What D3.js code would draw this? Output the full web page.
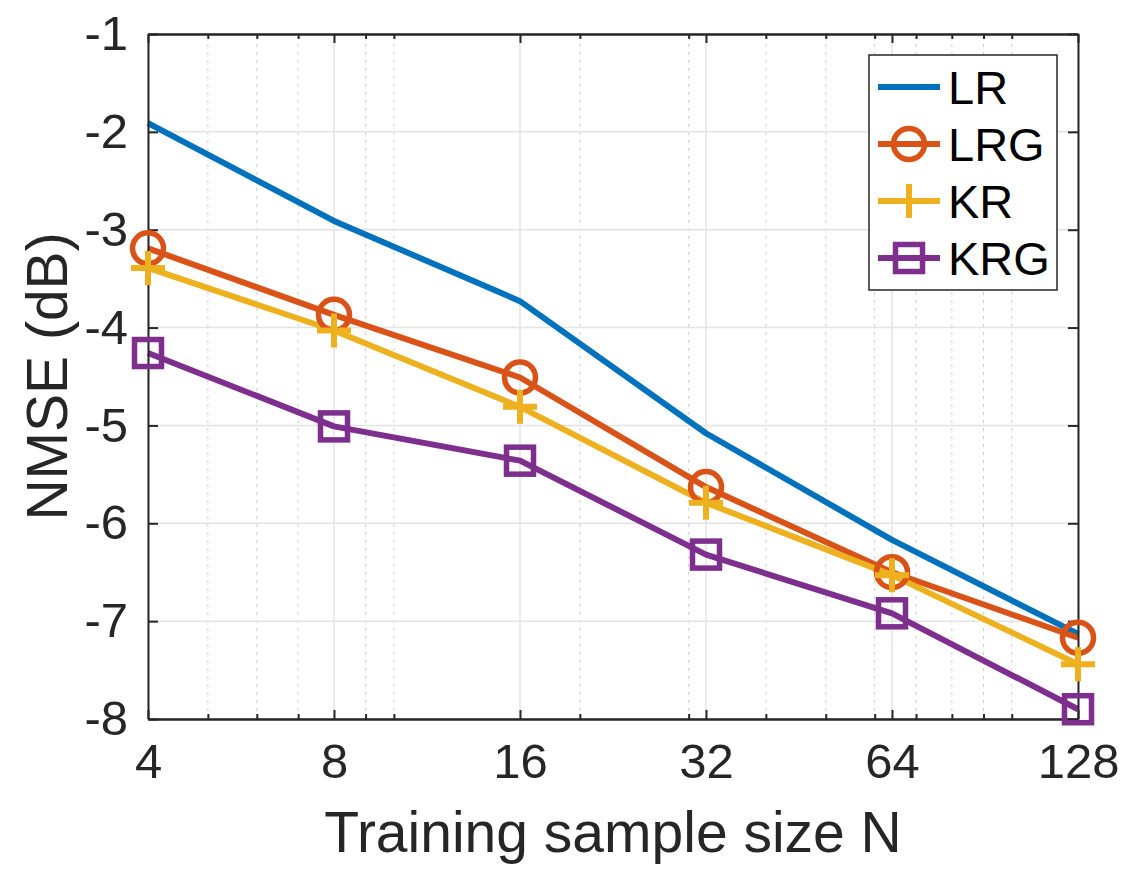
<!DOCTYPE html>
<html>
<head>
<meta charset="utf-8">
<script src="https://cdn.jsdelivr.net/npm/d3@7"></script>
<style>
  body { margin: 0; background: #fff; }
  svg { display: block; font-family: "Liberation Sans", Arial, Helvetica, sans-serif; }
</style>
</head>
<body>
<svg id="chart"></svg>
<script>
const W = 1129, H = 886;

// data
const sampleSizes = [4, 8, 16, 32, 64, 128];
const lrValues  = [-1.91, -2.91, -3.73, -5.08, -6.17, -7.13];
const lrgValues = [-3.19, -3.87, -4.51, -5.63, -6.50, -7.17];
const krValues  = [-3.39, -4.03, -4.81, -5.79, -6.53, -7.44];
const krgValues = [-4.26, -5.01, -5.36, -6.32, -6.92, -7.90];
const yTicks = [-8, -7, -6, -5, -4, -3, -2, -1];
const xMinorTicks = [5, 6, 7, 9, 10, 20, 30, 40, 50, 60, 70, 80, 90, 100];

const series = [
	{ name: 'LR',  values: lrValues,  color: '#0072BD', marker: 'none' },
	{ name: 'LRG', values: lrgValues, color: '#D95319', marker: 'circle' },
	{ name: 'KR',  values: krValues,  color: '#EDB120', marker: 'plus' },
	{ name: 'KRG', values: krgValues, color: '#7E2F8E', marker: 'square' }
];

const margin = { left: 148, right: W - 1078, top: 34, bottom: H - 719 };
const AXIS = '#262626', GRID = '#e3e3e3';

const svg = d3.select('svg#chart').attr('width', W).attr('height', H);

const x = d3.scaleLog().base(2).domain([4, 128]).range([margin.left, W - margin.right]);
const y = d3.scaleLinear().domain([-8, -1]).range([H - margin.bottom, margin.top]);

const gridG = svg.append('g'),
	linesG = svg.append('g'),
	axesG = svg.append('g'),
	marksG = svg.append('g'),
	legendG = svg.append('g');

// grid
gridG.selectAll('line.minor').data(xMinorTicks).enter().append('line')
	.attr('x1', d => x(d)).attr('x2', d => x(d))
	.attr('y1', y(-8)).attr('y2', y(-1))
	.attr('stroke', '#cfcfcf').attr('stroke-width', 1)
	.attr('stroke-dasharray', '3,5');
gridG.selectAll('line.vmaj').data(sampleSizes).enter().append('line')
	.attr('x1', d => x(d)).attr('x2', d => x(d))
	.attr('y1', y(-8)).attr('y2', y(-1))
	.attr('stroke', GRID).attr('stroke-width', 1.5);
gridG.selectAll('line.hmaj').data(yTicks).enter().append('line')
	.attr('x1', x(4)).attr('x2', x(128))
	.attr('y1', d => y(d)).attr('y2', d => y(d))
	.attr('stroke', GRID).attr('stroke-width', 1.5);

// series lines
const line = d3.line().x(d => x(d[0])).y(d => y(d[1]));
series.forEach(s => {
	const pts = sampleSizes.map((n, i) => [n, s.values[i]]);
	linesG.append('path')
		.datum(pts)
		.attr('d', line)
		.attr('fill', 'none')
		.attr('stroke', s.color)
		.attr('stroke-width', 6)
		.attr('stroke-linejoin', 'round');
});

// axes
const fmt = d => String(d);
const xAxisB = d3.axisBottom(x).tickValues(sampleSizes).tickFormat(fmt).tickSizeInner(-9).tickSizeOuter(0).tickPadding(24);
const xAxisT = d3.axisTop(x).tickValues(sampleSizes).tickFormat('').tickSizeInner(-9).tickSizeOuter(0);
const yAxisL = d3.axisLeft(y).tickValues(yTicks).tickFormat(fmt).tickSizeInner(-10).tickSizeOuter(0).tickPadding(20);
const yAxisR = d3.axisRight(y).tickValues(yTicks).tickFormat('').tickSizeInner(-10).tickSizeOuter(0);
const minorB = d3.axisBottom(x).tickValues(xMinorTicks).tickFormat('').tickSizeInner(-5).tickSizeOuter(0);
const minorT = d3.axisTop(x).tickValues(xMinorTicks).tickFormat('').tickSizeInner(-5).tickSizeOuter(0);

function style(g) {
	g.selectAll('path.domain').attr('stroke', AXIS).attr('stroke-width', 2);
	g.selectAll('.tick line').attr('stroke', AXIS).attr('stroke-width', 2);
	g.selectAll('.tick text').attr('fill', AXIS).attr('font-size', 49);
	g.attr('font-family', null);
}

axesG.append('g').attr('transform', `translate(0,${y(-8)})`).call(xAxisB).call(style);
axesG.append('g').attr('transform', `translate(0,${y(-1)})`).call(xAxisT).call(style);
axesG.append('g').attr('transform', `translate(0,${y(-8)})`).call(minorB).call(style);
axesG.append('g').attr('transform', `translate(0,${y(-1)})`).call(minorT).call(style);
axesG.append('g').attr('transform', `translate(${x(4)},0)`).call(yAxisL).call(style);
axesG.append('g').attr('transform', `translate(${x(128)},0)`).call(yAxisR).call(style);

// axis labels
svg.append('text')
	.attr('x', (x(4) + x(128)) / 2)
	.attr('y', 852)
	.attr('text-anchor', 'middle')
	.attr('font-size', 57)
	.attr('fill', AXIS)
	.text('Training sample size N');
svg.append('text')
	.attr('transform', `translate(67,${(y(-8) + y(-1)) / 2}) rotate(-90)`)
	.attr('text-anchor', 'middle')
	.attr('font-size', 57)
	.attr('fill', AXIS)
	.text('NMSE (dB)');

// markers
function drawMarker(g, type, cx, cy, color) {
	if (type === 'circle') {
		g.append('circle').attr('cx', cx).attr('cy', cy).attr('r', 15.5)
			.attr('fill', 'none').attr('stroke', color).attr('stroke-width', 5.5);
	} else if (type === 'plus') {
		g.append('path')
			.attr('d', `M${cx - 17},${cy}H${cx + 17}M${cx},${cy - 17}V${cy + 17}`)
			.attr('stroke', color).attr('stroke-width', 6).attr('fill', 'none');
	} else if (type === 'square') {
		g.append('rect').attr('x', cx - 13.5).attr('y', cy - 13.5)
			.attr('width', 27).attr('height', 27)
			.attr('fill', 'none').attr('stroke', color).attr('stroke-width', 5.5);
	}
}
series.forEach(s => {
	sampleSizes.forEach((n, i) => drawMarker(marksG, s.marker, x(n), y(s.values[i]), s.color));
});

// legend
const lgX = 869, lgY = 55, lgW = 188, lgH = 235;
legendG.append('rect')
	.attr('x', lgX).attr('y', lgY).attr('width', lgW).attr('height', lgH)
	.attr('fill', '#fff').attr('stroke', AXIS).attr('stroke-width', 1.5);
series.forEach((s, i) => {
	const cy = 87 + i * 57;
	legendG.append('line')
		.attr('x1', 878).attr('x2', 940).attr('y1', cy).attr('y2', cy)
		.attr('stroke', s.color).attr('stroke-width', 6);
	drawMarker(legendG, s.marker, 909, cy, s.color);
	legendG.append('text')
		.attr('x', 948).attr('y', cy).attr('dy', '0.36em')
		.attr('font-size', 47).attr('fill', '#000')
		.text(s.name);
});
</script>
</body>
</html>
